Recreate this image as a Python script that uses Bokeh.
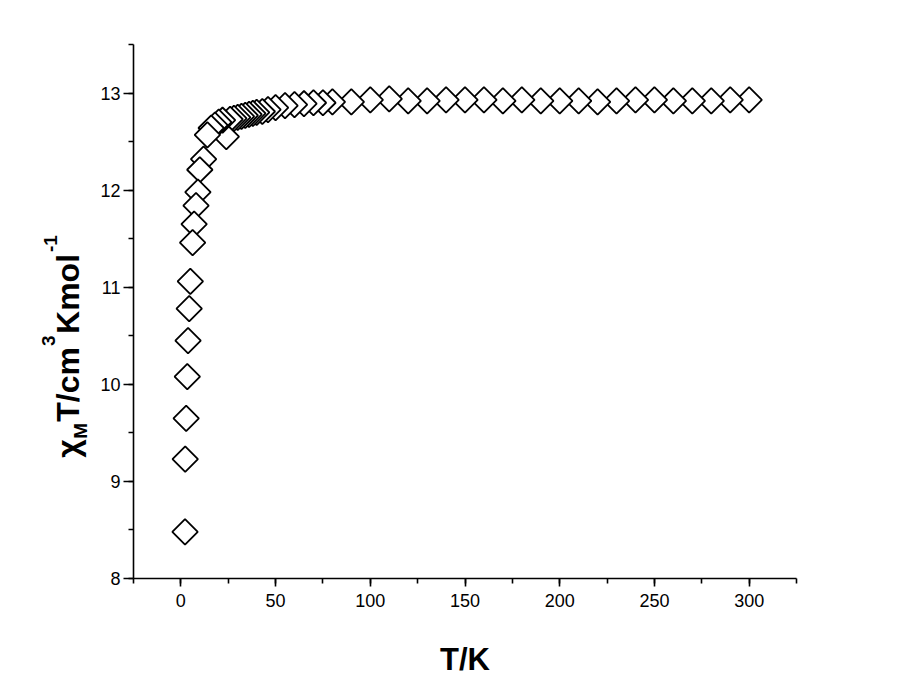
import numpy as np
from bokeh.plotting import figure
from bokeh.layouts import row
from bokeh.models import Range1d, SingleIntervalTicker, ColumnDataSource
from bokeh.core.properties import value
from bokeh.embed import file_html
from bokeh.resources import INLINE

# Measured chi_M*T vs T (listed in measurement order, cooling from 300 K)
temperature = [300, 290, 280, 270, 260, 250, 240, 230, 220, 210, 200, 190, 180, 170,
               160, 150, 140, 130, 120, 110, 100, 90, 80, 75, 70, 65, 60, 55, 50,
               46, 43, 40, 38, 36, 34, 32, 30, 28, 26, 24, 22, 20, 18, 16, 14,
               12, 10, 9, 8, 7, 6.2, 5, 4.4, 3.8, 3.4, 2.8, 2.3, 2.2]
chiT = [12.93, 12.93, 12.92, 12.92, 12.92, 12.93, 12.93, 12.92, 12.91, 12.92, 12.92, 12.92, 12.93, 12.92,
        12.93, 12.93, 12.93, 12.92, 12.92, 12.94, 12.93, 12.91, 12.91, 12.90, 12.90, 12.89, 12.88, 12.87, 12.85,
        12.83, 12.81, 12.80, 12.79, 12.78, 12.77, 12.76, 12.75, 12.74, 12.73, 12.55, 12.72, 12.70, 12.67, 12.64, 12.57,
        12.32, 12.21, 11.98, 11.84, 11.65, 11.46, 11.06, 10.78, 10.45, 10.08, 9.65, 9.23, 8.48]

# y-axis title pieces
ylabel_text = ["\u03c7", "M", "T/cm", "3", "Kmol", "-1"]

x_range = (-25, 325)
y_range = (8, 13.5)

FONT = "Liberation Sans"

H = 679
LW = 93          # width of the side panel carrying the rotated y title
W = 884 - LW
BL, BR, BT, BB = 40, 88, 44, 100
FRAME_H = H - BT - BB

p = figure(width=W, height=H, output_backend="svg", toolbar_location=None,
           x_range=Range1d(*x_range), y_range=Range1d(*y_range),
           min_border_left=BL, min_border_right=BR, min_border_top=BT, min_border_bottom=BB)
p.outline_line_color = None
p.grid.visible = False
p.background_fill_color = "white"
p.border_fill_color = "white"

src = ColumnDataSource(dict(t=temperature, v=chiT))
p.scatter("t", "v", source=src, marker="square", angle=np.pi / 4, size=18,
          fill_color="white", line_color="black", line_width=1.8)

for ax in (p.xaxis[0], p.yaxis[0]):
    ax.axis_line_color = "black"
    ax.axis_line_width = 1.6
    ax.major_tick_line_color = "black"
    ax.minor_tick_line_color = "black"
    ax.major_tick_line_width = 1.6
    ax.minor_tick_line_width = 1.6
    ax.major_tick_in = 0
    ax.minor_tick_in = 0
    ax.minor_tick_out = 5
    ax.major_label_text_font = FONT
    ax.major_label_text_font_size = "18px"
    ax.major_label_text_color = "black"

p.xaxis.ticker = SingleIntervalTicker(interval=50, num_minor_ticks=2)
p.yaxis.ticker = SingleIntervalTicker(interval=1, num_minor_ticks=2)
p.xaxis.major_tick_out = 8
p.yaxis.major_tick_out = 10
p.xaxis.major_label_standoff = 7
p.yaxis.major_label_standoff = 3

p.xaxis.axis_label = "T/K"
p.xaxis.axis_label_text_font = FONT
p.xaxis.axis_label_text_font_style = "bold"
p.xaxis.axis_label_text_font_size = "31px"
p.xaxis.axis_label_text_color = "black"
p.xaxis.axis_label_standoff = 32

# side panel with the rotated, sub/superscripted y-axis title;
# its frame spans the same rows as the main frame, so units are pixels above the frame bottom
side = figure(width=LW, height=H, output_backend="svg", toolbar_location=None,
              x_range=Range1d(0, LW), y_range=Range1d(0, FRAME_H),
              x_axis_location=None, y_axis_location=None,
              min_border_left=0, min_border_right=0, min_border_top=BT, min_border_bottom=BB)
side.outline_line_color = None
side.grid.visible = False
side.background_fill_color = "white"
side.border_fill_color = "white"

center = 67               # centre line of the main title text
offsets_x = [0, 13, 0, -19, 0, -17]
offsets_y = [121, 140, 157, 233, 245, 327]
sizes = ["32px", "19px", "32px", "19px", "32px", "19px"]
for txt, dx, dy, fs in zip(ylabel_text, offsets_x, offsets_y, sizes):
    side.text(x=[center + dx], y=[dy], text=[txt], angle=np.pi / 2,
              text_font=value(FONT), text_font_style="bold", text_font_size=value(fs),
              text_color="black", text_align="left", text_baseline="middle")

layout = row(side, p, spacing=0)
open("out.html", "w").write(file_html(layout, INLINE))
